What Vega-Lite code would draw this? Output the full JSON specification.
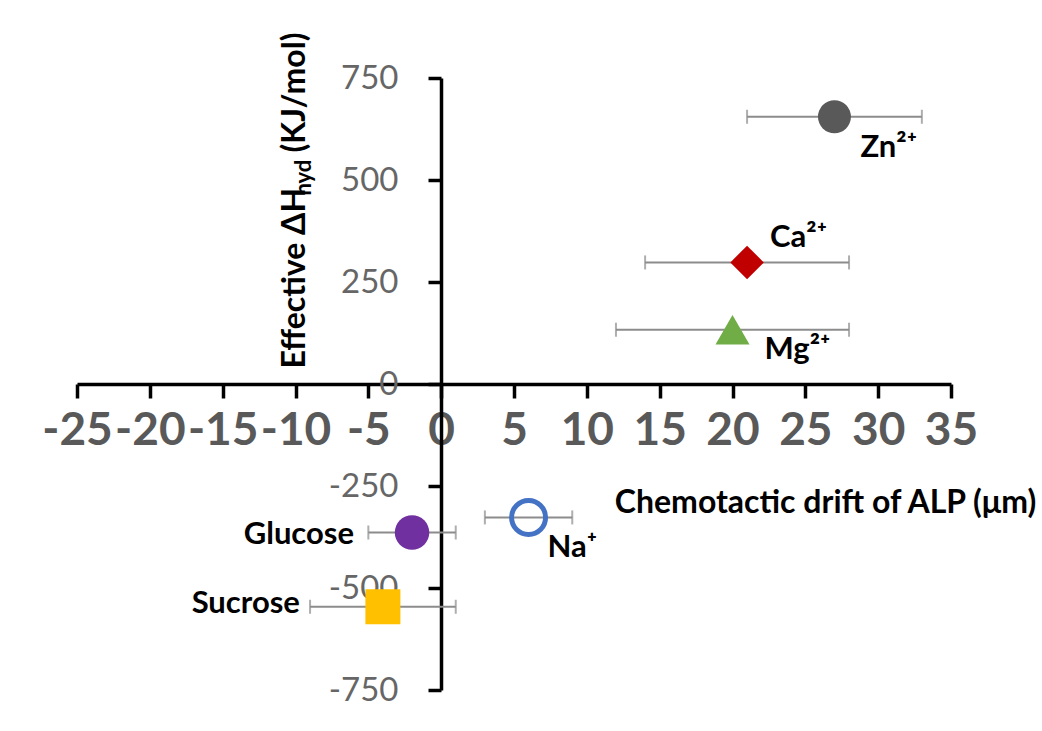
{
  "$schema": "https://vega.github.io/schema/vega-lite/v6.json",
  "width": 874,
  "height": 612,
  "autosize": {"type": "none"},
  "padding": {"left": 77, "top": 78, "right": 91, "bottom": 41},
  "background": "white",
  "config": {"view": {"stroke": null}, "font": "Lato", "axis": {"grid": false}},
  "data": {
    "values": [
      {"name": "Zn²⁺", "x": 27, "y": 655, "xlo": 21, "xhi": 33},
      {"name": "Ca²⁺", "x": 21, "y": 298, "xlo": 14, "xhi": 28},
      {"name": "Mg²⁺", "x": 20, "y": 133, "xlo": 12, "xhi": 28},
      {"name": "Na⁺", "x": 6, "y": -327, "xlo": 3, "xhi": 9},
      {"name": "Glucose", "x": -2, "y": -364, "xlo": -5, "xhi": 1},
      {"name": "Sucrose", "x": -4, "y": -546, "xlo": -9, "xhi": 1}
    ]
  },
  "resolve": {"axis": {"x": "independent", "y": "independent"}},
  "layer": [
    {
      "mark": {"type": "errorbar", "color": "#8c8c8c", "thickness": 2, "ticks": {"size": 14}},
      "encoding": {
        "x": {"field": "xlo", "type": "quantitative", "scale": {"domain": [-25, 35], "nice": false, "zero": false}, "axis": null},
        "x2": {"field": "xhi"},
        "y": {"field": "y", "type": "quantitative", "scale": {"domain": [-750, 750], "nice": false, "zero": false}, "axis": null}
      }
    },
    {
      "transform": [{"filter": "datum.name !== 'Na⁺'"}],
      "mark": {"type": "point", "filled": true, "opacity": 1},
      "encoding": {
        "x": {
          "field": "x", "type": "quantitative",
          "scale": {"domain": [-25, 35], "nice": false, "zero": false},
          "axis": {
            "orient": "bottom", "offset": -306,
            "values": [-25, -20, -15, -10, -5, 0, 5, 10, 15, 20, 25, 30, 35],
            "domainColor": "black", "domainWidth": 3.5,
            "tickColor": "black", "tickWidth": 3.5, "tickSize": 14,
            "labelExpr": "'' + datum.value",
            "labelFont": "Lato", "labelFontSize": 46, "labelFontWeight": "bold", "labelColor": "#595959",
            "labelBaseline": "middle", "labelPadding": 32, "labelOverlap": false, "labelFlush": false, "labelBound": false,
            "title": "Chemotactic drift of ALP (μm)",
            "titleFont": "Lato", "titleFontSize": 32, "titleFontWeight": "bold", "titleColor": "black",
            "titleX": 748, "titleY": 118, "titleAlign": "center", "titleBaseline": "middle"
          }
        },
        "y": {
          "field": "y", "type": "quantitative",
          "scale": {"domain": [-750, 750], "nice": false, "zero": false},
          "axis": {
            "orient": "left", "offset": -364,
            "values": [-750, -500, -250, 0, 250, 500, 750],
            "domainColor": "black", "domainWidth": 3.5,
            "tickColor": "black", "tickWidth": 3.5, "tickSize": 13,
            "labelExpr": "'' + datum.value",
            "labelFont": "Lato", "labelFontSize": 33, "labelColor": "#666666", "labelPadding": 30,
            "labelOverlap": false, "labelFlush": false, "labelBound": false,
            "title": "Effective ΔH",
            "titleFont": "Lato", "titleFontSize": 32, "titleFontWeight": "bold", "titleColor": "black",
            "titleAngle": -90, "titleAlign": "left", "titleBaseline": "alphabetic",
            "titleX": -137, "titleY": 290
          }
        },
        "shape": {
          "field": "name", "type": "nominal", "legend": null,
          "scale": {"domain": ["Zn²⁺", "Ca²⁺", "Mg²⁺", "Glucose", "Sucrose"], "range": ["circle", "diamond", "triangle-up", "circle", "square"]}
        },
        "color": {
          "field": "name", "type": "nominal", "legend": null,
          "scale": {"domain": ["Zn²⁺", "Ca²⁺", "Mg²⁺", "Glucose", "Sucrose"], "range": ["#595959", "#C00000", "#70AD47", "#7030A0", "#FFC000"]}
        },
        "size": {
          "field": "name", "type": "nominal", "legend": null,
          "scale": {"domain": ["Zn²⁺", "Ca²⁺", "Mg²⁺", "Glucose", "Sucrose"], "range": [1089, 1225, 1444, 1156, 1681]}
        }
      }
    },
    {
      "transform": [{"filter": "datum.name === 'Na⁺'"}],
      "mark": {"type": "point", "filled": false, "shape": "circle", "color": "#4472C4", "strokeWidth": 5, "size": 1156, "opacity": 1},
      "encoding": {
        "x": {"field": "x", "type": "quantitative", "scale": {"domain": [-25, 35], "nice": false, "zero": false}, "axis": null},
        "y": {
          "field": "y", "type": "quantitative",
          "scale": {"domain": [-750, 750], "nice": false, "zero": false},
          "axis": {
            "orient": "left", "offset": -364, "domain": false, "ticks": false, "labels": false,
            "title": "hyd",
            "titleFont": "Lato", "titleFontSize": 22, "titleFontWeight": "bold", "titleColor": "black",
            "titleAngle": -90, "titleAlign": "left", "titleBaseline": "alphabetic",
            "titleX": -131, "titleY": 117
          }
        }
      }
    },
    {
      "transform": [{"filter": "datum.name === 'Zn²⁺'"}],
      "mark": {"type": "text", "align": "left", "baseline": "alphabetic", "dx": 26, "dy": 40, "font": "Lato", "fontSize": 31, "fontWeight": "bold", "color": "black"},
      "encoding": {
        "x": {"field": "x", "type": "quantitative", "scale": {"domain": [-25, 35], "nice": false, "zero": false}, "axis": null},
        "y": {
          "field": "y", "type": "quantitative",
          "scale": {"domain": [-750, 750], "nice": false, "zero": false},
          "axis": {
            "orient": "left", "offset": -364, "domain": false, "ticks": false, "labels": false,
            "title": "(KJ/mol)",
            "titleFont": "Lato", "titleFontSize": 32, "titleFontWeight": "bold", "titleColor": "black",
            "titleAngle": -90, "titleAlign": "left", "titleBaseline": "alphabetic",
            "titleX": -137, "titleY": 74
          }
        },
        "text": {"field": "name"}
      }
    },
    {
      "transform": [{"filter": "datum.name === 'Na⁺'"}],
      "mark": {"type": "text", "align": "left", "baseline": "alphabetic", "dx": 19, "dy": 40, "font": "Lato", "fontSize": 31, "fontWeight": "bold", "color": "black"},
      "encoding": {
        "x": {"field": "x", "type": "quantitative", "scale": {"domain": [-25, 35], "nice": false, "zero": false}, "axis": null},
        "y": {"field": "y", "type": "quantitative", "scale": {"domain": [-750, 750], "nice": false, "zero": false}, "axis": null},
        "text": {"field": "name"}
      }
    },
    {
      "transform": [{"filter": "datum.name === 'Mg²⁺'"}],
      "mark": {"type": "text", "align": "left", "baseline": "alphabetic", "dx": 32, "dy": 29, "font": "Lato", "fontSize": 31, "fontWeight": "bold", "color": "black"},
      "encoding": {
        "x": {"field": "x", "type": "quantitative", "scale": {"domain": [-25, 35], "nice": false, "zero": false}, "axis": null},
        "y": {"field": "y", "type": "quantitative", "scale": {"domain": [-750, 750], "nice": false, "zero": false}, "axis": null},
        "text": {"field": "name"}
      }
    },
    {
      "transform": [{"filter": "datum.name === 'Ca²⁺'"}],
      "mark": {"type": "text", "align": "left", "baseline": "alphabetic", "dx": 23, "dy": -15, "font": "Lato", "fontSize": 31, "fontWeight": "bold", "color": "black"},
      "encoding": {
        "x": {"field": "x", "type": "quantitative", "scale": {"domain": [-25, 35], "nice": false, "zero": false}, "axis": null},
        "y": {"field": "y", "type": "quantitative", "scale": {"domain": [-750, 750], "nice": false, "zero": false}, "axis": null},
        "text": {"field": "name"}
      }
    },
    {
      "transform": [{"filter": "datum.name === 'Glucose'"}],
      "mark": {"type": "text", "align": "right", "baseline": "alphabetic", "dx": -58, "dy": 11, "font": "Lato", "fontSize": 31, "fontWeight": "bold", "color": "black"},
      "encoding": {
        "x": {"field": "x", "type": "quantitative", "scale": {"domain": [-25, 35], "nice": false, "zero": false}, "axis": null},
        "y": {"field": "y", "type": "quantitative", "scale": {"domain": [-750, 750], "nice": false, "zero": false}, "axis": null},
        "text": {"field": "name"}
      }
    },
    {
      "transform": [{"filter": "datum.name === 'Sucrose'"}],
      "mark": {"type": "text", "align": "right", "baseline": "alphabetic", "dx": -83, "dy": 6, "font": "Lato", "fontSize": 31, "fontWeight": "bold", "color": "black"},
      "encoding": {
        "x": {"field": "x", "type": "quantitative", "scale": {"domain": [-25, 35], "nice": false, "zero": false}, "axis": null},
        "y": {"field": "y", "type": "quantitative", "scale": {"domain": [-750, 750], "nice": false, "zero": false}, "axis": null},
        "text": {"field": "name"}
      }
    }
  ]
}
